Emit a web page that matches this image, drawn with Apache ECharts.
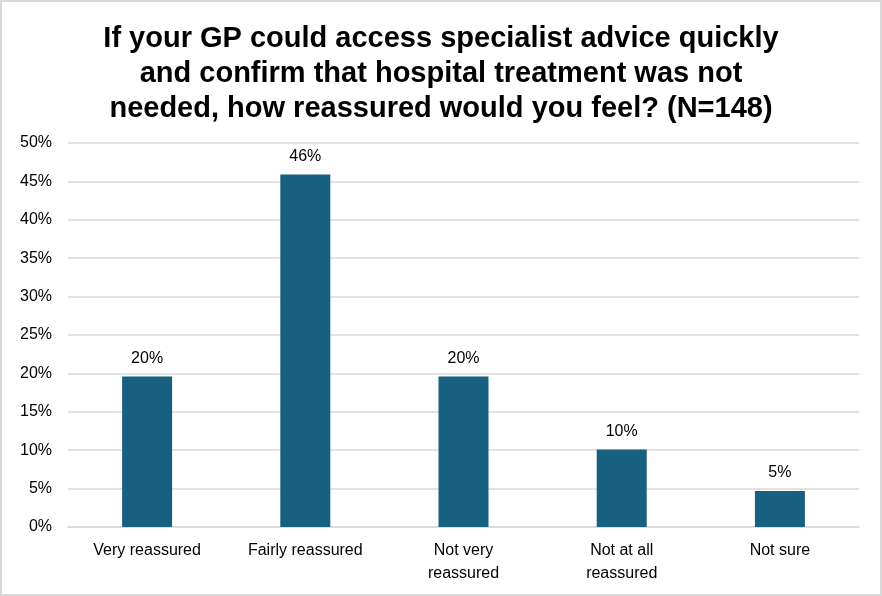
<!DOCTYPE html>
<html>
<head>
<meta charset="utf-8">
<script src="https://cdn.jsdelivr.net/npm/echarts@6/dist/echarts.min.js"></script>
<style>
  html, body { margin: 0; padding: 0; background: #fff; }
  #chart { width: 882px; height: 596px; box-sizing: border-box; border: 2px solid #d9d9d9; }
</style>
</head>
<body>
<div id="chart"></div>
<script>
// responses out of N=148
const categories = ["Very reassured", "Fairly reassured", "Not very\nreassured", "Not at all\nreassured", "Not sure"];
const shares = [19.6, 45.9, 19.6, 10.1, 4.7];
const yTicks = [0, 50, 5]; // min, max, step (%)

const myChart = echarts.init(document.getElementById("chart"));
let option;

option = {
    title: {
        text: "If your GP could access specialist advice quickly\nand confirm that hospital treatment was not\nneeded, how reassured would you feel? (N=148)",
        left: "center",
        top: 14,
        textStyle: {
            fontFamily: "Liberation Sans",
            fontWeight: "bold",
            fontSize: 29,
            lineHeight: 35,
            color: "#000"
        }
    },
    grid: {
        left: 66,
        right: 21,
        top: 141,
        bottom: 67
    },
    xAxis: {
        type: "category",
        data: categories,
        axisTick: { show: false },
        axisLine: { lineStyle: { color: "#d9d9d9", width: 1.5 } },
        axisLabel: {
            margin: 12,
            fontFamily: "Liberation Sans",
            fontSize: 16,
            lineHeight: 23,
            color: "#000"
        }
    },
    yAxis: {
        type: "value",
        min: yTicks[0],
        max: yTicks[1],
        interval: yTicks[2],
        axisLine: { show: false },
        axisTick: { show: false },
        splitLine: { lineStyle: { color: "#d9d9d9", width: 1.5 } },
        axisLabel: {
            margin: 16,
            formatter: "{value}%",
            fontFamily: "Liberation Sans",
            fontSize: 16,
            color: "#000"
        }
    },
    series: [
        {
            type: "bar",
            data: shares,
            barWidth: 50,
            itemStyle: { color: "#17607f" },
            label: {
                show: true,
                position: "top",
                distance: 10,
                formatter: p => Math.round(p.value) + "%",
                fontFamily: "Liberation Sans",
                fontSize: 16,
                color: "#000"
            }
        }
    ]
};
option && myChart.setOption(option);
</script>
</body>
</html>
